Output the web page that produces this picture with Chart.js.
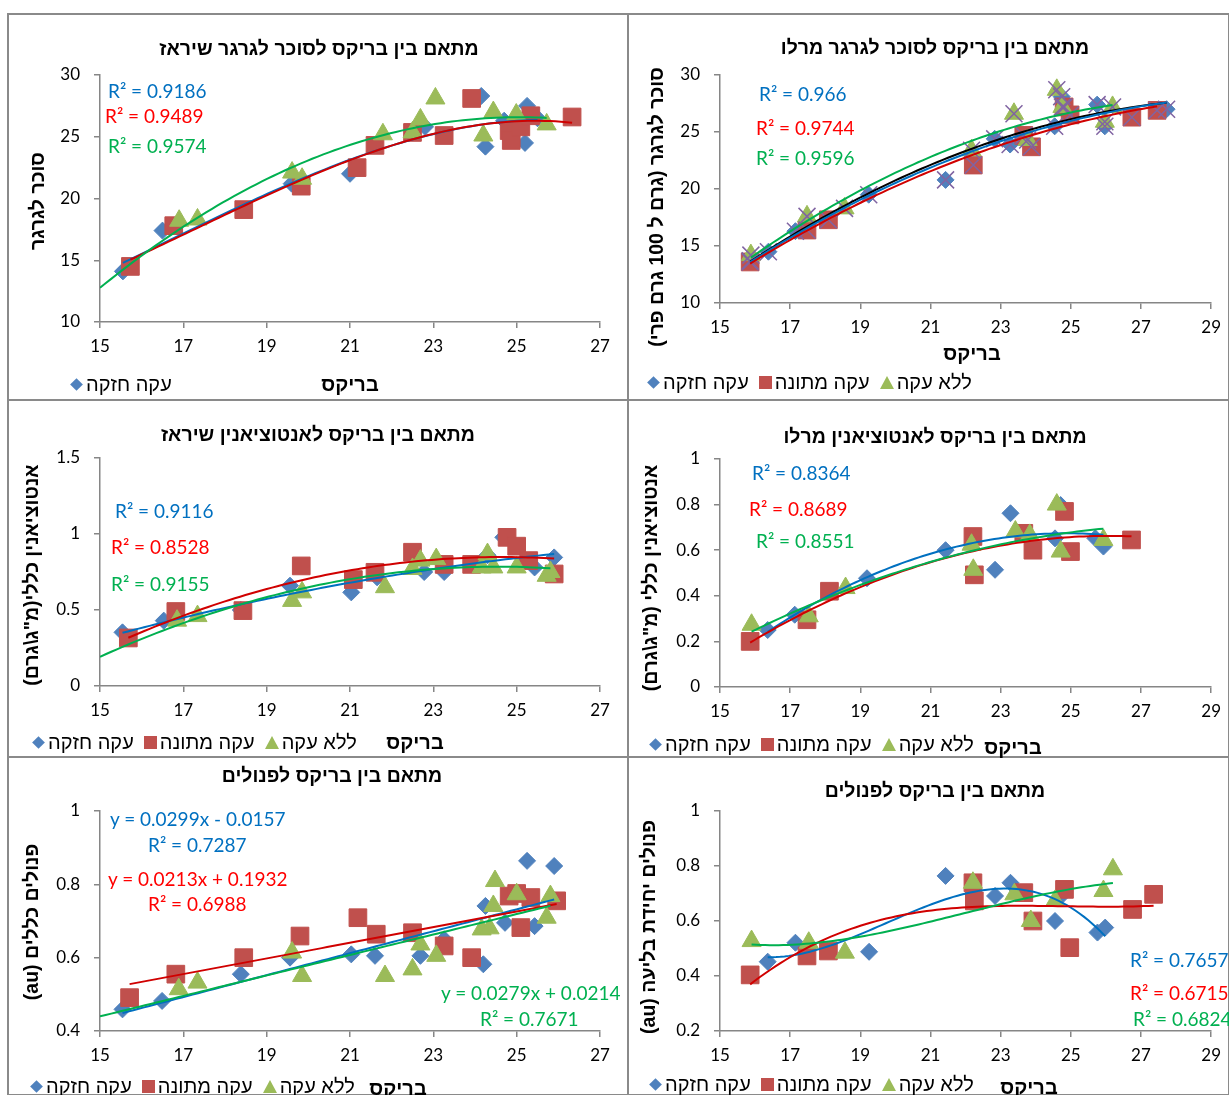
<!DOCTYPE html>
<html>
<head>
<meta charset="utf-8">
<script src="https://cdn.jsdelivr.net/npm/chart.js@4.4.1/dist/chart.umd.min.js"></script>
<style>
  body { margin: 0; background: #fff; width: 1229px; height: 1095px; overflow: hidden; position: relative; font-family: "Liberation Sans", "DejaVu Sans", sans-serif; }
  .panel { position: absolute; border: 2px solid #8a8a8a; box-sizing: border-box; }
  canvas { position: absolute; }
  .t { position: absolute; white-space: nowrap; line-height: 1; z-index: 5; }
  .lg { position: absolute; display: flex; align-items: center; z-index: 5; font-size: 20px; line-height: 1; white-space: nowrap; }
  .mk { display: inline-block; margin-right: 3px; }
</style>
</head>
<body>
<script>
// series names (legend)
const seriesNames = ['עקה חזקה', 'עקה מתונה', 'ללא עקה'];

// Shiraz sugar
const p1Strong = [[15.55,14.1],[16.5,17.4],[19.6,21.2],[21.0,22.0],[22.8,25.8],[24.15,28.3],[24.25,24.2],[24.7,26.3],[25.25,27.5],[25.2,24.5],[25.5,26.5]];
const p1Mild = [[15.73,14.5],[16.77,17.8],[18.45,19.1],[19.83,21.0],[21.17,22.5],[21.6,24.3],[22.5,25.35],[23.26,25.1],[23.92,28.1],[24.82,25.5],[24.87,24.7],[25.1,25.8],[25.34,26.7],[26.33,26.6]];
const p1None = [[16.9,18.2],[17.34,18.3],[19.61,22.1],[19.85,21.6],[21.79,25.2],[22.5,25.35],[22.69,26.4],[23.05,28.1],[24.2,25.1],[24.44,27.0],[24.99,26.8],[25.72,26.0]];

// Merlot sugar
const p2Strong = [[15.86,13.7],[16.38,14.5],[17.15,16.3],[19.24,19.5],[21.43,20.8],[22.83,24.4],[23.27,23.9],[24.54,25.5],[24.74,28.1],[25.75,27.4],[25.97,25.5],[27.73,27.0]];
const p2Mild = [[15.86,13.6],[17.48,16.4],[18.09,17.3],[22.22,22.1],[23.66,24.7],[23.88,23.7],[24.81,27.2],[24.98,26.5],[26.74,26.3],[27.46,26.9]];
const p2None = [[15.88,14.2],[17.48,17.6],[18.55,18.3],[22.17,23.4],[23.38,26.6],[23.77,24.3],[24.6,28.7],[24.76,27.2],[25.97,25.9],[26.19,27.2]];

// Shiraz anthocyanin
const p3Strong = [[15.54,0.353],[16.53,0.43],[18.38,0.50],[19.56,0.66],[21.03,0.616],[21.65,0.715],[22.78,0.75],[23.26,0.75],[24.3,0.86],[24.68,0.978],[25.2,0.825],[25.43,0.78],[25.9,0.846]];
const p3Mild = [[15.68,0.316],[16.82,0.49],[18.43,0.496],[19.83,0.79],[21.08,0.70],[21.6,0.748],[22.5,0.88],[23.26,0.80],[23.92,0.80],[24.77,0.978],[25.0,0.92],[25.29,0.825],[25.9,0.737]];
const p3None = [[16.85,0.43],[17.34,0.46],[19.61,0.56],[19.85,0.616],[21.84,0.65],[22.5,0.77],[22.69,0.825],[23.07,0.835],[24.16,0.78],[24.3,0.868],[24.44,0.78],[25.0,0.78],[25.72,0.725],[25.81,0.75]];

// Merlot anthocyanin
const p4Strong = [[16.36,0.25],[17.13,0.317],[19.19,0.477],[21.43,0.60],[22.84,0.514],[23.28,0.762],[24.55,0.652],[24.71,0.798],[25.7,0.652],[25.93,0.616]];
const p4Mild = [[15.86,0.20],[17.48,0.295],[18.12,0.42],[22.21,0.66],[22.25,0.492],[23.66,0.674],[23.92,0.60],[24.82,0.77],[24.99,0.594],[26.73,0.645]];
const p4None = [[15.9,0.273],[17.53,0.31],[18.58,0.434],[22.17,0.624],[22.22,0.514],[23.42,0.682],[23.83,0.667],[24.6,0.8],[24.71,0.594],[25.93,0.645]];

// Shiraz phenols (linear trend, coefficients as printed)
const p5Strong = [[15.54,0.459],[16.49,0.482],[18.38,0.555],[19.56,0.60],[21.03,0.609],[21.6,0.605],[22.69,0.605],[23.26,0.65],[24.2,0.582],[24.25,0.741],[24.72,0.695],[25.25,0.864],[25.43,0.686],[25.9,0.85]];
const p5Mild = [[15.71,0.491],[16.82,0.555],[18.45,0.60],[19.8,0.659],[21.19,0.709],[21.63,0.664],[22.5,0.668],[23.26,0.632],[23.92,0.60],[24.82,0.768],[25.0,0.775],[25.1,0.682],[25.34,0.764],[25.96,0.755]];
const p5None = [[16.89,0.514],[17.34,0.532],[19.61,0.614],[19.85,0.55],[21.84,0.55],[22.5,0.568],[22.69,0.636],[23.07,0.605],[24.16,0.677],[24.35,0.68],[24.44,0.741],[24.48,0.809],[25.0,0.773],[25.72,0.709],[25.81,0.768]];
const p5Slope = [0.0299, 0.0213, 0.0279];
const p5Intercept = [-0.0157, 0.1932, 0.0214];

// Merlot phenols
const p6Strong = [[16.36,0.452],[17.15,0.521],[19.25,0.488],[21.43,0.764],[22.84,0.691],[23.28,0.739],[24.55,0.60],[24.77,0.697],[25.76,0.558],[25.98,0.576]];
const p6Mild = [[15.86,0.404],[17.48,0.473],[18.09,0.491],[22.21,0.739],[22.25,0.673],[23.66,0.703],[23.92,0.60],[24.82,0.715],[24.97,0.503],[26.76,0.642],[27.36,0.697]];
const p6None = [[15.9,0.527],[17.53,0.521],[18.56,0.485],[22.21,0.739],[23.39,0.697],[23.86,0.60],[24.55,0.673],[25.93,0.709],[26.2,0.788]];

// styles
const markerColors = ['#4F81BD', '#C0504D', '#9BBB59'];
const markerStyles = ['rectRot', 'rect', 'triangle'];
const markerRadius = [8.5, 12.5, 11];
const lineColors = ['#0070C0', '#D00000', '#00B050'];
const textColors = ['#0070C0', '#FF0000', '#00B050'];

function polyFit(pts, order) {
  const n = order + 1;
  const A = Array.from({ length: n }, () => new Array(n + 1).fill(0));
  pts.forEach(([x, y]) => {
    const u = x - 20;
    for (let i = 0; i < n; i++) {
      for (let j = 0; j < n; j++) A[i][j] += Math.pow(u, i + j);
      A[i][n] += y * Math.pow(u, i);
    }
  });
  for (let c = 0; c < n; c++) {
    let p = c;
    for (let r = c + 1; r < n; r++) if (Math.abs(A[r][c]) > Math.abs(A[p][c])) p = r;
    [A[c], A[p]] = [A[p], A[c]];
    for (let r = 0; r < n; r++) {
      if (r === c) continue;
      const f = A[r][c] / A[c][c];
      for (let k = c; k <= n; k++) A[r][k] -= f * A[c][k];
    }
  }
  const coef = A.map((row, i) => row[n] / row[i]);
  return x => coef.reduce((s, c, i) => s + c * Math.pow(x - 20, i), 0);
}

function curve(fn, a, b) {
  const out = [];
  for (let i = 0; i <= 80; i++) {
    const x = a + (b - a) * i / 80;
    out.push({ x, y: fn(x) });
  }
  return out;
}

const panels = [
  { box: [8, 14, 620, 386], area: [100, 600, 75, 322], xr: [15, 27], yr: [10, 30, 5],
    series: [p1Strong, p1Mild, p1None], order: [3, 3, 2], from: [null, null, 15],
    title: ['מתאם בין בריקס לסוכר לגרגר שיראז', 319, 49],
    ytitle: ['סוכר לגרגר', 38, 201],
    xtitle: [350, 384],
    legend: [69, 384, 1],
    notes: [['R² = 0.9186', 108, 90, 0], ['R² = 0.9489', 105, 115, 1], ['R² = 0.9574', 108, 145, 2]] },
  { box: [628, 14, 601, 386], area: [720, 1212, 75, 303], xr: [15, 29], yr: [10, 30, 5],
    series: [p2Strong, p2Mild, p2None], order: [2, 2, 2], from: [null, null, null], combined: true,
    title: ['מתאם בין בריקס לסוכר לגרגר מרלו', 935, 48],
    ytitle: ['סוכר לגרגר (גרם ל 100 גרם פרי)', 657, 207],
    xtitle: [972, 353],
    legend: [646, 382, 3],
    notes: [['R² = 0.966', 759, 93, 0], ['R² = 0.9744', 756, 127, 1], ['R² = 0.9596', 756, 157, 2]] },
  { box: [8, 400, 620, 357], area: [100, 600, 458, 686], xr: [15, 27], yr: [0, 1.5, 0.5],
    series: [p3Strong, p3Mild, p3None], order: [2, 2, 2], from: [null, null, 15],
    title: ['מתאם בין בריקס לאנטוציאנין שיראז', 318, 435],
    ytitle: ['אנטוציאנין כללי(מ"ג\\גרם)', 32, 575],
    xtitle: [415, 742],
    legend: [31, 742, 3],
    notes: [['R² = 0.9116', 115, 510, 0], ['R² = 0.8528', 111, 546, 1], ['R² = 0.9155', 111, 583, 2]] },
  { box: [628, 400, 601, 357], area: [720, 1212, 459, 687], xr: [15, 29], yr: [0, 1, 0.2],
    series: [p4Strong, p4Mild, p4None], order: [2, 2, 2], from: [null, null, null],
    title: ['מתאם בין בריקס לאנטוציאנין מרלו', 935, 437],
    ytitle: ['אנטוציאנין כללי (מ"ג\\גרם)', 651, 578],
    xtitle: [1013, 747],
    legend: [648, 744, 3],
    notes: [['R² = 0.8364', 752, 472, 0], ['R² = 0.8689', 749, 508, 1], ['R² = 0.8551', 756, 540, 2]] },
  { box: [8, 757, 620, 338], area: [100, 600, 811, 1031], xr: [15, 27], yr: [0.4, 1, 0.2],
    series: [p5Strong, p5Mild, p5None], order: [1, 1, 1], from: [null, null, 15], linear: true,
    title: ['מתאם בין בריקס לפנולים', 332, 776],
    ytitle: ['פנולים כללים (au)', 32, 922],
    xtitle: [398, 1088],
    legend: [29, 1086, 3],
    notes: [['y = 0.0299x - 0.0157', 110, 818, 0], ['R² = 0.7287', 148, 844, 0],
            ['y = 0.0213x + 0.1932', 108, 878, 1], ['R² = 0.6988', 148, 903, 1],
            ['y = 0.0279x + 0.0214', 441, 992, 2], ['R² = 0.7671', 480, 1018, 2]] },
  { box: [628, 757, 601, 338], area: [720, 1212, 811, 1031], xr: [15, 29], yr: [0.2, 1, 0.2],
    series: [p6Strong, p6Mild, p6None], order: [3, 3, 3], from: [null, null, null],
    title: ['מתאם בין בריקס לפנולים', 935, 791],
    ytitle: ['פנולים יחידת בליעה (au)', 649, 927],
    xtitle: [1029, 1087],
    legend: [648, 1084, 3],
    notes: [['R² = 0.7657', 1130, 959, 0], ['R² = 0.6715', 1130, 992, 1], ['R² = 0.6824', 1133, 1018, 2]] }
];

function addText(txt, x, y, css, center) {
  const d = document.createElement('div');
  d.className = 't';
  d.textContent = txt;
  d.style.left = x + 'px';
  d.style.top = y + 'px';
  d.style.transform = center ? 'translate(-50%,-50%)' : 'translate(0,-50%)';
  Object.assign(d.style, css);
  document.body.appendChild(d);
  return d;
}

function marker(i) {
  const m = document.createElement('span');
  m.className = 'mk';
  const c = markerColors[i];
  if (i === 0) Object.assign(m.style, { width: '9px', height: '9px', background: c, transform: 'rotate(45deg)', margin: '0 5px 0 3px' });
  if (i === 1) Object.assign(m.style, { width: '13px', height: '13px', background: c });
  if (i === 2) Object.assign(m.style, { width: '0', height: '0', borderLeft: '7px solid transparent', borderRight: '7px solid transparent', borderBottom: '13px solid ' + c });
  return m;
}

const fmt = v => String(Math.round(v * 100) / 100);

panels.forEach(p => {
  const [bx, by, bw, bh] = p.box;
  const frame = document.createElement('div');
  frame.className = 'panel';
  Object.assign(frame.style, { left: (bx - 1) + 'px', top: (by - 1) + 'px', width: (bw + 2) + 'px', height: (bh + 2) + 'px' });
  document.body.appendChild(frame);

  const cv = document.createElement('canvas');
  cv.width = bw; cv.height = bh;
  cv.style.left = bx + 'px'; cv.style.top = by + 'px';
  document.body.appendChild(cv);

  const [l, r, t, b] = p.area;
  const yW = l - bx, padTop = t - by, padRight = bx + bw - r;
  const xH = 40, padBottom = by + bh - b - xH;

  const datasets = [];
  p.series.forEach((pts, i) => {
    datasets.push({
      data: pts.map(([x, y]) => ({ x, y })),
      pointStyle: markerStyles[i], pointRadius: markerRadius[i],
      backgroundColor: markerColors[i], borderColor: markerColors[i], borderWidth: 1,
      order: 10 - i
    });
  });
  if (p.combined) {
    const all = p.series.flat();
    datasets.push({
      data: all.map(([x, y]) => ({ x, y })),
      pointStyle: 'crossRot', pointRadius: 12, borderColor: '#8064A2', borderWidth: 1.5,
      backgroundColor: 'transparent', order: 5
    });
    const xs = all.map(d => d[0]);
    datasets.push({
      data: curve(polyFit(all, 2), Math.min(...xs), Math.max(...xs)),
      showLine: true, pointRadius: 0, borderColor: '#000', borderWidth: 2, order: -1
    });
  }
  p.series.forEach((pts, i) => {
    const xs = pts.map(d => d[0]);
    const a = p.from[i] != null ? p.from[i] : Math.min(...xs);
    const fn = p.linear ? (x => p5Slope[i] * x + p5Intercept[i]) : polyFit(pts, p.order[i]);
    datasets.push({
      data: curve(fn, a, Math.max(...xs)),
      showLine: true, pointRadius: 0, borderColor: lineColors[i], borderWidth: 2, order: -2 - i
    });
  });

  const tickFont = { family: 'Lato', size: 17 };
  new Chart(cv, {
    type: 'scatter',
    data: { datasets },
    options: {
      responsive: false, animation: false, events: [],
      layout: { padding: { left: 0, top: padTop, right: padRight, bottom: padBottom } },
      plugins: { legend: { display: false }, tooltip: { enabled: false } },
      scales: {
        x: {
          type: 'linear', min: p.xr[0], max: p.xr[1],
          ticks: { stepSize: 2, color: '#000', font: tickFont, padding: 8, callback: fmt },
          grid: { drawOnChartArea: false, tickLength: 6, color: '#868686', lineWidth: 1.5 },
          border: { color: '#868686', width: 1.5 },
          afterFit: s => { s.height = xH; }
        },
        y: {
          min: p.yr[0], max: p.yr[1],
          ticks: { stepSize: p.yr[2], color: '#000', font: tickFont, padding: 14, callback: fmt },
          grid: { drawOnChartArea: false, tickLength: 6, color: '#868686', lineWidth: 1.5 },
          border: { color: '#868686', width: 1.5 },
          afterFit: s => { s.width = yW; }
        }
      }
    }
  });

  const tt = addText(p.title[0], p.title[1], p.title[2], { fontWeight: 'bold', fontSize: '19.5px' }, true);
  tt.dir = 'rtl';
  const yt = addText(p.ytitle[0], p.ytitle[1], p.ytitle[2], { fontWeight: 'bold', fontSize: '19.5px' }, true);
  yt.dir = 'rtl';
  yt.style.transform = 'translate(-50%,-50%) rotate(-90deg)';
  addText('בריקס', p.xtitle[0], p.xtitle[1], { fontWeight: 'bold', fontSize: '20px' }, true).dir = 'rtl';

  p.notes.forEach(([txt, x, y, c]) => {
    addText(txt, x, y, { fontFamily: 'Lato', fontSize: '19px', color: textColors[c] }, false);
  });

  const lg = document.createElement('div');
  lg.className = 'lg';
  lg.style.left = p.legend[0] + 'px';
  lg.style.top = p.legend[1] + 'px';
  lg.style.transform = 'translate(0,-50%)';
  for (let i = 0; i < p.legend[2]; i++) {
    lg.appendChild(marker(i));
    const s = document.createElement('span');
    s.textContent = seriesNames[i];
    s.dir = 'rtl';
    s.style.marginRight = '10px';
    lg.appendChild(s);
  }
  document.body.appendChild(lg);
});
</script>
</body>
</html>
